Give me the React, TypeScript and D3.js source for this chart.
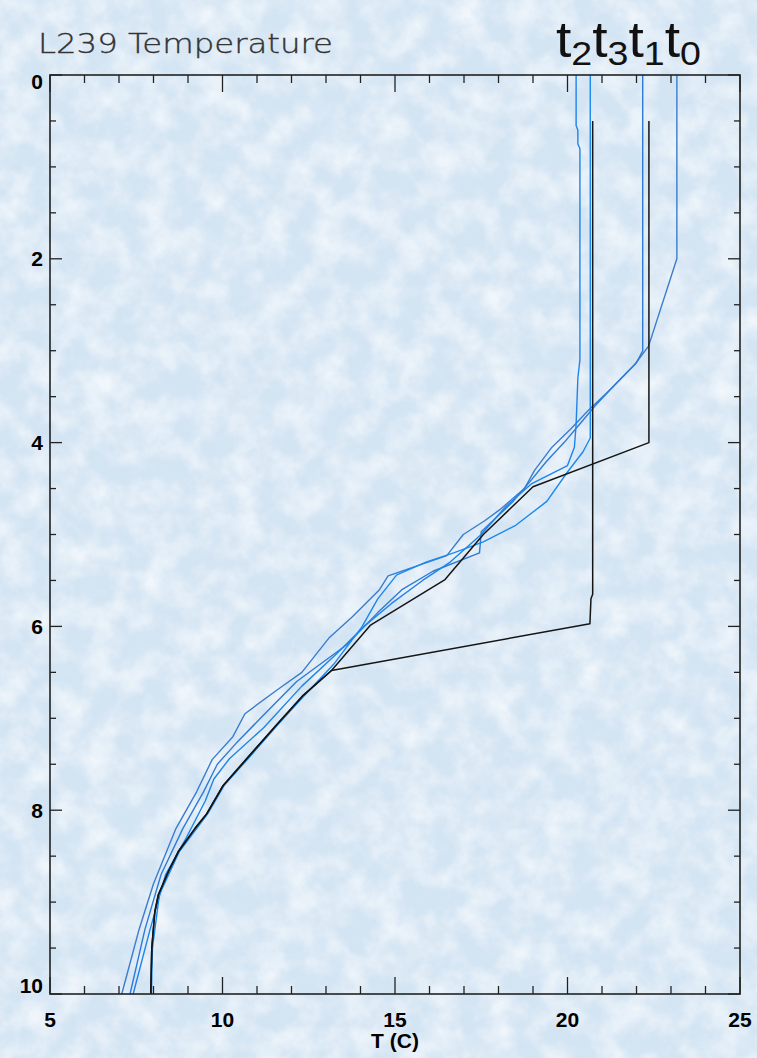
import * as d3 from "d3";

// depth (m) / temperature (C) pairs
const t0Profile: [number, number][] = [
  [0, 23.17], [2.0, 23.17], [2.95, 22.35], [3.15, 21.95], [3.4, 21.3], [3.65, 20.6],
  [3.85, 20.1], [4.05, 19.55], [4.3, 19.05], [4.5, 18.75], [4.73, 18.04], [4.85, 17.6],
  [5.0, 16.98], [5.23, 16.5], [5.45, 14.8], [5.6, 14.55], [5.9, 13.75], [6.12, 13.1],
  [6.5, 12.3], [6.7, 11.55], [6.95, 10.65], [7.2, 10.3], [7.45, 9.7], [7.8, 9.25],
  [8.2, 8.65], [8.8, 8.0], [9.3, 7.58], [10, 7.08],
];
const t1Profile: [number, number][] = [
  [0, 22.18], [3.0, 22.18], [3.13, 22.0], [3.36, 21.4], [3.6, 20.8], [3.8, 20.35],
  [4.0, 19.9], [4.2, 19.4], [4.43, 18.9], [4.65, 18.4], [4.97, 17.5], [5.2, 17.45],
  [5.4, 16.1], [5.6, 15.2], [5.85, 14.5], [6.2, 13.6], [6.6, 12.15], [7.0, 11.1],
  [7.27, 10.4], [7.5, 9.85], [7.8, 9.45], [8.2, 8.85], [8.7, 8.22], [9.3, 7.75], [10, 7.32],
];
const t2Profile: [number, number][] = [
  [0, 20.25], [0.55, 20.25], [0.6, 20.3], [0.75, 20.3], [0.8, 20.36], [3.1, 20.36],
  [3.3, 20.3], [3.8, 20.25], [4.05, 20.2], [4.25, 20.0], [4.45, 18.95], [4.7, 18.2],
  [5.0, 17.5], [5.3, 16.6], [5.5, 15.8], [5.75, 14.9], [6.0, 14.1], [6.3, 13.3],
  [6.65, 12.3], [7.1, 11.2], [7.44, 10.2], [7.66, 9.75], [7.9, 9.5], [8.3, 8.95],
  [8.7, 8.35], [9.3, 7.9], [10, 7.41],
];
const t3Profile: [number, number][] = [
  [0, 20.66], [3.95, 20.66], [4.1, 20.45], [4.32, 20.0], [4.64, 19.4], [4.9, 18.5],
  [5.08, 17.56], [5.2, 16.7], [5.3, 15.9], [5.44, 15.05], [5.7, 14.5], [6.0, 14.05],
  [6.4, 13.25], [6.75, 12.38], [7.07, 11.6], [7.44, 10.74], [7.73, 10.05], [8.04, 9.57],
  [8.45, 8.75], [8.92, 8.17], [9.5, 7.97], [10, 7.94],
];
// black profiles share the lower curve
const blackLower: [number, number][] = [
  [6.48, 13.16], [6.75, 12.34], [7.07, 11.57], [7.44, 10.7], [7.73, 10.02], [8.04, 9.54],
  [8.2, 9.2], [8.45, 8.72], [8.67, 8.43], [8.92, 8.14], [9.1, 8.04], [9.5, 7.95], [10, 7.92],
];
const blackA: [number, number][] = [
  [0.5, 20.73], [5.65, 20.73], [5.7, 20.68], [5.97, 20.65], ...blackLower,
];
const blackB: [number, number][] = [
  [0.5, 22.36], [4.0, 22.36], [4.48, 19.0], [5.0, 17.56], [5.49, 16.45], [5.99, 14.28],
  ...blackLower,
];

const blueSeries = [
  { name: "t0", data: t0Profile, color: "#3a7ccf" },
  { name: "t1", data: t1Profile, color: "#2e7bd6" },
  { name: "t2", data: t2Profile, color: "#1e84ea" },
  { name: "t3", data: t3Profile, color: "#1a88f0" },
];
const blackSeries = [blackA, blackB];

const tempTicks = [5, 10, 15, 20, 25];
const depthTicks = [0, 2, 4, 6, 8, 10];
const legendOrder = ["2", "3", "1", "0"];

const W = 757;
const H = 1058;

export default function App() {
  const x = d3.scaleLinear().domain([5, 25]).range([50, 740]);
  const y = d3.scaleLinear().domain([0, 10]).range([75, 994]);

  const line = d3
    .line<[number, number]>()
    .x((d) => x(d[1]))
    .y((d) => y(d[0]));

  const minorX = d3.range(5, 25.01, 1);
  const minorY = d3.range(0, 10.01, 0.5);
  const axisFont = "'Liberation Sans', Arial, sans-serif";

  return (
    <svg
      width={W}
      height={H}
      style={{ position: "absolute", left: 0, top: 0, display: "block" }}
    >
      <defs>
        <filter id="tex" x="0" y="0" width="100%" height="100%">
          <feTurbulence type="fractalNoise" baseFrequency="0.035" numOctaves={4} seed={7} />
          <feColorMatrix
            type="matrix"
            values="0 0 0 0 1  0 0 0 0 1  0 0 0 0 1  1.8 0 0 0 -0.6"
          />
        </filter>
      </defs>
      <rect width={W} height={H} fill="#d3e4f3" />
      <rect width={W} height={H} fill="#fff" filter="url(#tex)" opacity={0.7} />

      {/* title */}
      <text
        x={38}
        y={53}
        fontFamily="'DejaVu Sans', sans-serif"
        fontSize={26}
        fontWeight={200}
        fill="#333"
        stroke="#333"
        strokeWidth={0.35}
        textLength={295}
        lengthAdjust="spacingAndGlyphs"
      >
        L239 Temperature
      </text>
      <text
        x={556}
        y={57}
        fontFamily={axisFont}
        fontSize={50}
        fill="#111"
        textLength={145}
        lengthAdjust="spacingAndGlyphs"
      >
        {legendOrder.map((s, i) => [
          <tspan key={"t" + s} dy={i === 0 ? 0 : -8}>t</tspan>,
          <tspan key={"s" + s} fontSize={34} dy={8}>{s}</tspan>,
        ])}
      </text>

      {/* profiles */}
      <g fill="none" strokeWidth={1.4} strokeLinejoin="round">
        {blueSeries.map((s) => (
          <path key={s.name} d={line(s.data) ?? ""} stroke={s.color} />
        ))}
        {blackSeries.map((s, i) => (
          <path key={i} d={line(s) ?? ""} stroke="#151515" strokeWidth={1.5} />
        ))}
      </g>

      {/* frame and ticks */}
      <g stroke="#222" strokeWidth={1.3}>
        {minorX.map((t) => {
          const major = tempTicks.includes(t);
          const len = major ? 17 : 8;
          return (
            <g key={"x" + t}>
              <line x1={x(t)} x2={x(t)} y1={y(10)} y2={y(10) - len} />
              <line x1={x(t)} x2={x(t)} y1={y(0)} y2={y(0) + len} />
            </g>
          );
        })}
        {minorY.map((t) => {
          const major = depthTicks.includes(t);
          const len = major ? 12 : 6;
          return (
            <g key={"y" + t}>
              <line x1={x(5)} x2={x(5) + len} y1={y(t)} y2={y(t)} />
              <line x1={x(25)} x2={x(25) - len} y1={y(t)} y2={y(t)} />
            </g>
          );
        })}
        <rect
          x={x(5)}
          y={y(0)}
          width={x(25) - x(5)}
          height={y(10) - y(0)}
          fill="none"
          strokeWidth={1.6}
        />
      </g>

      {/* tick labels */}
      <g fontFamily={axisFont} fontWeight="bold" fontSize={21} fill="#000">
        {depthTicks.map((t) => (
          <text
            key={t}
            x={x(5) - 7}
            y={y(t) + (t === 0 ? 6 : t === 10 ? -9 : 0)}
            textAnchor="end"
            dominantBaseline="central"
          >
            {t}
          </text>
        ))}
        {tempTicks.map((t) => (
          <text key={t} x={x(t)} y={1019} textAnchor="middle" dominantBaseline="central">
            {t}
          </text>
        ))}
        <text x={x(15)} y={1040} textAnchor="middle" dominantBaseline="central">
          T (C)
        </text>
      </g>
    </svg>
  );
}
